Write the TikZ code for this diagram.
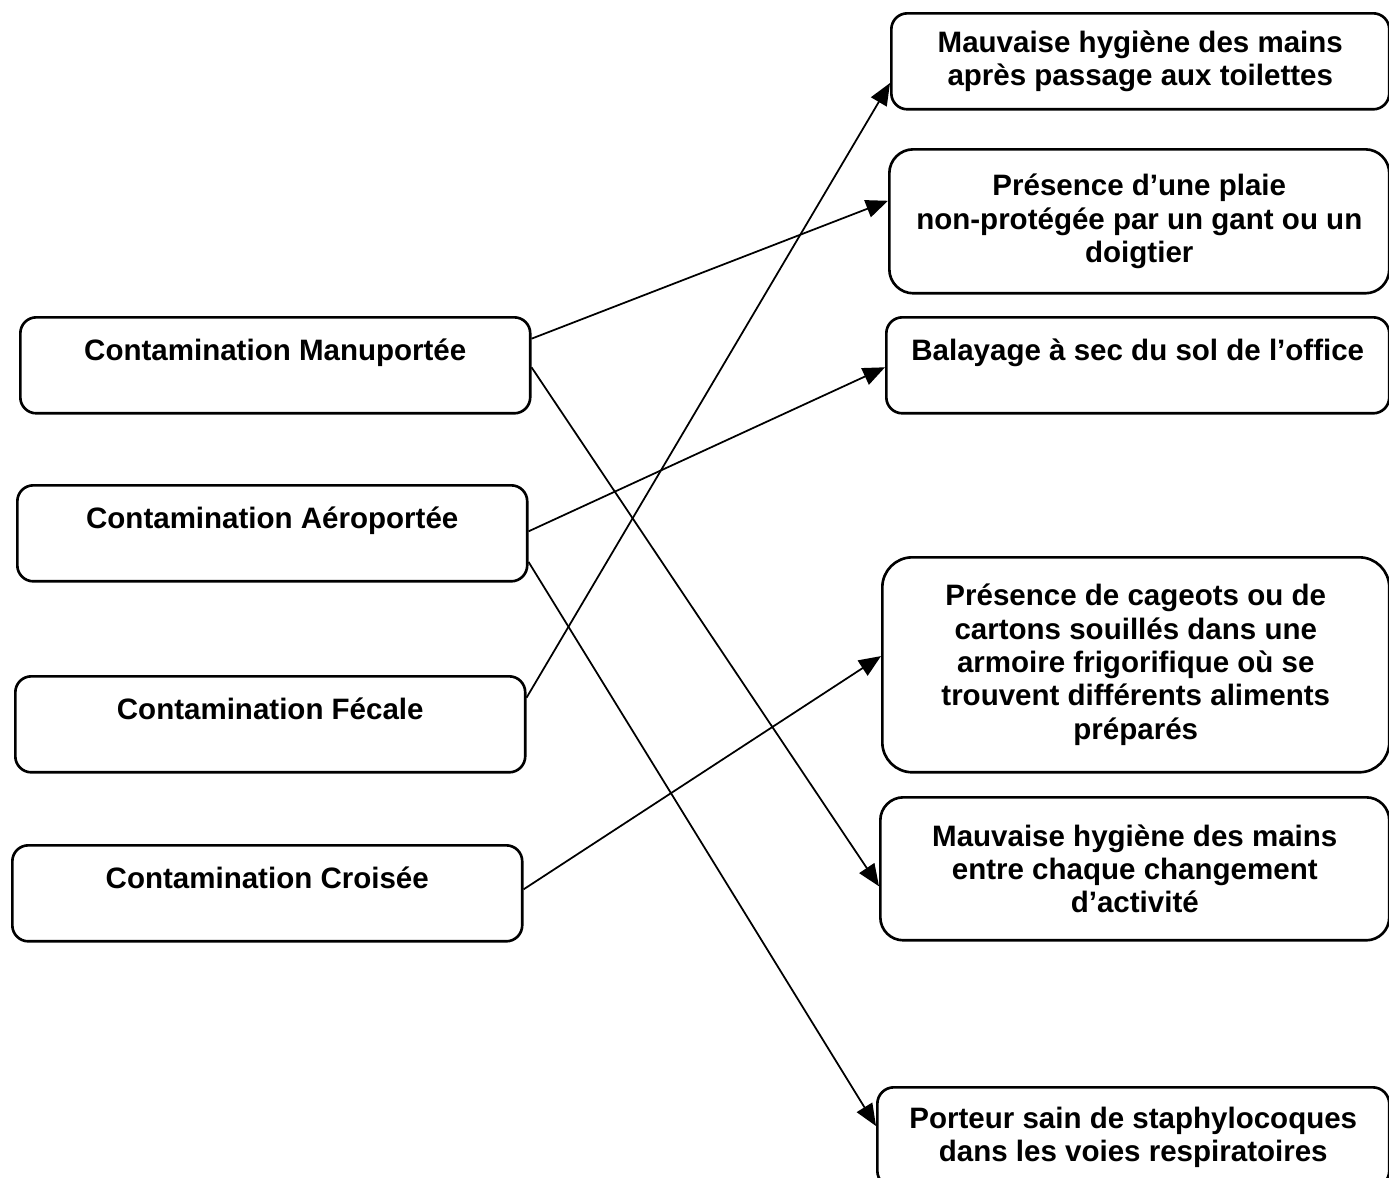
\documentclass[tikz,border=0pt]{standalone}
\usepackage{fontspec}
\setmainfont{Liberation Sans}
\usetikzlibrary{arrows.meta,calc}
\begin{document}
\begin{tikzpicture}[x=0.02cm,y=-0.02cm,
    font=\fontsize{16.8}{19}\selectfont\bfseries,
    box/.style={draw, line width=1.5pt, anchor=north west, inner sep=0pt},
    oneline/.style={box, rounded corners=0.32cm, text height=0.86cm, text depth=1.06cm},
    lines/.style={box, align=center},
    link/.style={-{Triangle[length=4.4mm,width=3.6mm]}, line width=1pt}]
    \useasboundingbox (0,0) rectangle (1389,1177);
    % Sources of contamination (left column)
    \node[oneline, minimum width=10.2cm] (manu) at (19,316) {Contamination Manuportée};
    \node[oneline, minimum width=10.2cm] (aero) at (16,484) {Contamination Aéroportée};
    \node[oneline, minimum width=10.2cm] (feca) at (14,675) {Contamination Fécale};
    \node[oneline, minimum width=10.2cm] (crois) at (11,844) {Contamination Croisée};
    % Situations (right column)
    \node[lines, minimum width=9.96cm, minimum height=1.92cm, rounded corners=0.32cm] (toil) at (890,12)
        {Mauvaise hygiène des mains\\après passage aux toilettes};
    \node[lines, minimum width=10cm, minimum height=2.88cm, rounded corners=0.48cm] (plaie) at (888,148)
        {Présence d’une plaie\\non-protégée par un gant ou un\\doigtier};
    \node[oneline, minimum width=10.06cm] (bala) at (885,316) {Balayage à sec du sol de l’office};
    \node[lines, minimum width=10.14cm, minimum height=4.3cm, rounded corners=0.6cm] (cage) at (881,556)
        {Présence de cageots ou de\\cartons souillés dans une\\armoire frigorifique où se\\trouvent différents aliments\\préparés};
    \node[lines, minimum width=10.18cm, minimum height=2.86cm, rounded corners=0.46cm] (chaq) at (879,796)
        {Mauvaise hygiène des mains\\entre chaque changement\\d’activité};
    \node[lines, minimum width=10.24cm, minimum height=2cm, rounded corners=0.33cm] (port) at (876,1086)
        {Porteur sain de staphylocoques\\dans les voies respiratoires};
    % Links
    \draw[link] ($(manu.north east)!0.23!(manu.south east)$) -- ($(plaie.north west)!0.36!(plaie.south west)$);
    \draw[link] ($(manu.north east)!0.52!(manu.south east)$) -- ($(chaq.north west)!0.62!(chaq.south west)$);
    \draw[link] ($(aero.north east)!0.48!(aero.south east)$) -- ($(bala.north west)!0.52!(bala.south west)$);
    \draw[link] ($(aero.north east)!0.79!(aero.south east)$) -- ($(port.north west)!0.39!(port.south west)$);
    \draw[link] ($(feca.north east)!0.23!(feca.south east)$) -- ($(toil.north west)!0.72!(toil.south west)$);
    \draw[link] ($(crois.north east)!0.46!(crois.south east)$) -- ($(cage.north west)!0.46!(cage.south west)$);
\end{tikzpicture}
\end{document}
